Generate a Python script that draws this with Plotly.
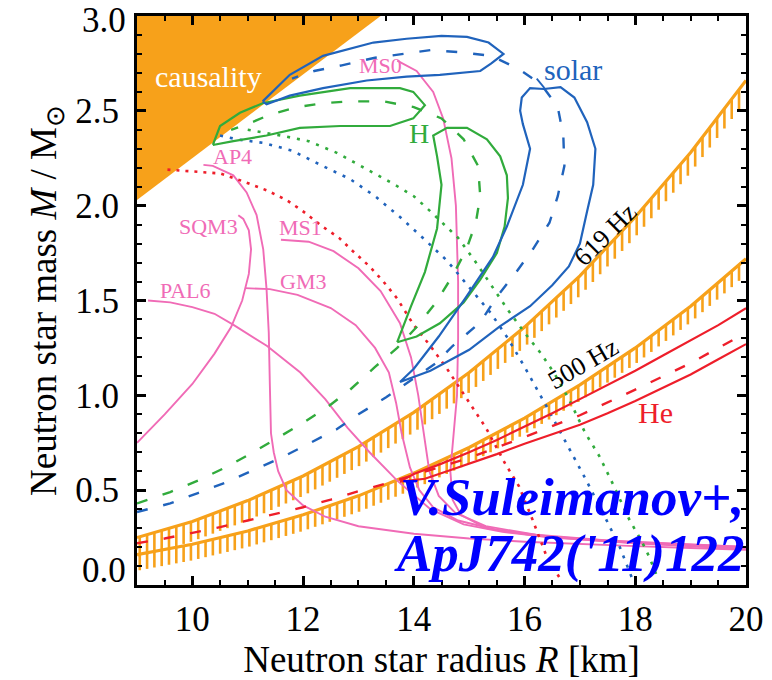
import numpy as np
import plotly.graph_objects as go

# ---------------- data ----------------
causality_R = [9.0, 13.4, 9.0]
causality_M = [2.03, 3.0, 3.0]

band_R = [9, 10, 11, 12, 13, 14, 15, 16, 17, 18, 19, 20]
hz619_M = [0.25, 0.335, 0.445, 0.575, 0.73, 0.91, 1.12, 1.36, 1.63, 1.94, 2.28, 2.66]
hz500_M = [0.16, 0.215, 0.285, 0.37, 0.47, 0.59, 0.725, 0.88, 1.055, 1.25, 1.47, 1.72]

he_up_R = [13.75, 14.0, 14.5, 15.0, 15.5, 16.0, 16.5, 17.0, 17.5, 18.0, 18.5, 19.0, 19.5, 20.0]
he_up_M = [0.545, 0.585, 0.64, 0.70, 0.765, 0.835, 0.905, 0.98, 1.055, 1.13, 1.21, 1.29, 1.37, 1.46]
he_lo_R = [13.75, 14.2, 14.6, 15.0, 15.5, 16.0, 16.5, 17.0, 17.5, 18.0, 18.5, 19.0, 19.5, 20.0]
he_lo_M = [0.545, 0.56, 0.60, 0.64, 0.69, 0.745, 0.795, 0.845, 0.905, 0.97, 1.04, 1.11, 1.19, 1.27]
he_fit_R = [9.0, 9.5, 10.0, 10.5, 11.0, 11.5, 12.0, 12.5, 13.0, 13.5, 14.0, 15.0, 16.0, 17.0, 18.0, 19.0, 20.0]
he_fit_M = [0.22, 0.245, 0.275, 0.305, 0.34, 0.375, 0.41, 0.45, 0.495, 0.535, 0.58, 0.67, 0.78, 0.895, 1.03, 1.17, 1.33]

solar_top_R = [11.27, 11.76, 12.36, 13.27, 13.87, 14.5, 14.96, 15.35, 15.62, 15.4, 15.2, 14.47, 13.87, 13.15, 12.36, 11.76, 11.34, 11.27]
solar_top_M = [2.55, 2.69, 2.79, 2.86, 2.88, 2.895, 2.89, 2.86, 2.80, 2.75, 2.71, 2.69, 2.68, 2.66, 2.62, 2.58, 2.535, 2.55]
solar_ban_R = [13.75, 14.3, 15.0, 15.56, 16.1, 16.5, 16.8, 17.0, 17.13, 17.24, 17.28, 17.13, 16.9, 16.65, 16.35, 16.1, 15.95, 15.92, 15.97, 16.1, 15.97, 15.68, 15.43, 14.95, 14.45, 14.0, 13.75]
solar_ban_M = [1.07, 1.13, 1.24, 1.365, 1.47, 1.58, 1.68, 1.80, 1.97, 2.11, 2.30, 2.44, 2.57, 2.625, 2.615, 2.62, 2.57, 2.50, 2.43, 2.30, 2.11, 1.89, 1.73, 1.52, 1.31, 1.14, 1.07]
solar_fit_R = [9.0, 9.6, 10.1, 10.6, 11.1, 11.6, 12.1, 12.6, 13.0, 13.5, 14.0, 14.4, 14.7, 15.2, 15.5, 15.85, 16.15, 16.45, 16.6, 16.72, 16.7, 16.6, 16.3, 15.9, 15.4, 14.8, 14.3, 13.75, 13.3, 12.7, 12.2, 11.8]
solar_fit_M = [0.385, 0.43, 0.485, 0.54, 0.605, 0.67, 0.745, 0.82, 0.90, 0.99, 1.09, 1.17, 1.26, 1.385, 1.52, 1.65, 1.77, 1.91, 2.05, 2.21, 2.37, 2.52, 2.64, 2.72, 2.79, 2.81, 2.82, 2.80, 2.78, 2.74, 2.71, 2.67]
solar_dot_R = [10.5, 10.8, 11.3, 11.8, 12.35, 12.85, 13.3, 13.75, 14.2, 14.6, 15.0, 15.4, 15.7, 16.0, 16.4, 16.75, 17.1, 17.45, 17.72, 17.95]
solar_dot_M = [2.37, 2.35, 2.33, 2.29, 2.21, 2.14, 2.05, 1.94, 1.82, 1.71, 1.57, 1.43, 1.30, 1.15, 0.94, 0.75, 0.56, 0.36, 0.20, 0.03]

h_top_R = [10.37, 10.5, 10.86, 11.27, 11.94, 12.85, 13.75, 13.99, 14.2, 13.99, 13.57, 12.67, 11.94, 11.34, 10.74, 10.37]
h_top_M = [2.32, 2.42, 2.49, 2.54, 2.58, 2.62, 2.62, 2.60, 2.53, 2.46, 2.42, 2.42, 2.41, 2.37, 2.34, 2.32]
h_ban_R = [13.7, 14.05, 14.47, 14.9, 15.2, 15.5, 15.64, 15.7, 15.68, 15.56, 15.32, 14.96, 14.6, 14.35, 14.42, 14.5, 14.42, 14.2, 13.95, 13.7]
h_ban_M = [1.28, 1.31, 1.38, 1.49, 1.61, 1.75, 1.89, 2.04, 2.16, 2.26, 2.35, 2.41, 2.41, 2.37, 2.26, 2.11, 1.88, 1.65, 1.47, 1.28]
h_fit_R = [9.0, 9.6, 10.1, 10.6, 11.1, 11.5, 12.0, 12.45, 12.85, 13.3, 13.7, 14.05, 14.4, 14.7, 14.95, 15.12, 15.2, 15.16, 14.9, 14.5, 14.0, 13.45, 12.85, 12.35, 11.9, 11.4, 11.0, 10.7]
h_fit_M = [0.43, 0.49, 0.55, 0.62, 0.70, 0.77, 0.855, 0.94, 1.03, 1.15, 1.25, 1.36, 1.49, 1.63, 1.77, 1.91, 2.05, 2.21, 2.35, 2.46, 2.52, 2.55, 2.55, 2.54, 2.52, 2.48, 2.43, 2.40]
h_dot_R = [11.0, 11.6, 12.1, 12.6, 13.1, 13.6, 14.0, 14.3, 14.8, 15.1, 15.4, 15.7, 16.0, 16.3, 16.55, 16.8, 17.1, 17.35, 17.6, 17.9, 18.1, 18.25, 18.4]
h_dot_M = [2.40, 2.37, 2.34, 2.28, 2.20, 2.12, 2.05, 1.97, 1.83, 1.71, 1.58, 1.45, 1.33, 1.22, 1.11, 0.98, 0.80, 0.68, 0.53, 0.34, 0.24, 0.15, 0.04]
he_dot_R = [9.55, 10.0, 10.5, 10.9, 11.35, 11.7, 12.0, 12.35, 12.65, 12.9, 13.2, 13.45, 13.7, 14.0, 14.3, 14.6, 14.85, 15.1, 15.3, 15.65, 15.9, 16.15, 16.4, 16.65]
he_dot_M = [2.19, 2.18, 2.17, 2.13, 2.08, 2.03, 1.97, 1.89, 1.83, 1.76, 1.68, 1.60, 1.51, 1.37, 1.26, 1.14, 1.03, 0.92, 0.83, 0.64, 0.52, 0.34, 0.15, 0.03]

eos = {
    "AP4": ([10.2, 10.37, 10.74, 10.98, 11.16, 11.28, 11.34, 11.38, 11.4, 11.42, 11.47, 11.55, 11.7, 12.0, 12.4, 13.0, 14.0, 15.0, 16.0, 17.0, 18.0, 19.0, 20.0],
            [2.215, 2.21, 2.16, 2.07, 1.95, 1.77, 1.56, 1.33, 1.05, 0.80, 0.70, 0.60, 0.50, 0.42, 0.36, 0.31, 0.27, 0.245, 0.228, 0.215, 0.205, 0.195, 0.185]),
    "SQM3": ([9.0, 9.5, 10.0, 10.4, 10.7, 10.9, 11.02, 11.06, 11.02, 10.92, 10.83],
             [0.75, 0.90, 1.06, 1.22, 1.36, 1.50, 1.64, 1.77, 1.87, 1.93, 1.95]),
    "GM3": ([10.95, 11.4, 11.9, 12.5, 12.95, 13.3, 13.55, 13.68, 13.78, 13.93, 14.1, 14.35, 14.8, 15.5, 16.5, 18.0, 20.0],
            [1.565, 1.56, 1.53, 1.46, 1.37, 1.25, 1.12, 0.96, 0.80, 0.62, 0.50, 0.41, 0.34, 0.29, 0.255, 0.225, 0.20]),
    "MS1": ([11.6, 12.1, 12.55, 13.0, 13.4, 13.75, 13.95, 14.08, 14.18, 14.28, 14.45, 14.75, 15.3, 16.2, 17.5, 20.0],
            [1.82, 1.81, 1.76, 1.67, 1.55, 1.38, 1.20, 1.00, 0.80, 0.60, 0.47, 0.38, 0.31, 0.265, 0.235, 0.20]),
    "MS0": ([13.7, 14.05, 14.35, 14.53, 14.68, 14.76, 14.8, 14.8, 14.78, 14.72, 14.66, 14.7, 14.85, 15.3, 16.2, 17.5, 20.0],
            [2.765, 2.71, 2.60, 2.46, 2.25, 2.00, 1.60, 1.30, 1.00, 0.80, 0.60, 0.45, 0.37, 0.30, 0.26, 0.23, 0.19]),
    "PAL6": ([9.2, 9.6, 10.0, 10.4, 10.75, 11.35, 11.95, 12.4, 12.8, 13.2, 13.7, 14.3, 14.9, 15.6, 16.5, 18.0, 20.0],
             [1.50, 1.49, 1.465, 1.43, 1.37, 1.26, 1.12, 0.98, 0.83, 0.70, 0.55, 0.40, 0.32, 0.28, 0.25, 0.22, 0.19]),
}
eos_labels = {"MS0": (13.4, 2.74), "AP4": (10.72, 2.26), "SQM3": (10.3, 1.89),
              "MS1": (11.95, 1.885), "GM3": (12.0, 1.6), "PAL6": (9.88, 1.555)}

y_ticks = [0.0, 0.5, 1.0, 1.5, 2.0, 2.5, 3.0]
y_ticktext = ["", "0.5", "1.0", "1.5", "2.0", "2.5", ""]

# ---------------- styles ----------------
ORANGE = "#F7A11A"
BLUE = "#2063BC"
GREEN = "#31AB3C"
RED = "#EE1E2A"
PINK = "#F06BB6"
FONT = "Liberation Serif, Times New Roman, serif"

fig = go.Figure()


def add_line(x, y, color, width=2.0, dash="solid"):
    fig.add_trace(go.Scatter(x=x, y=y, mode="lines", hoverinfo="skip", showlegend=False,
                             line=dict(color=color, width=width, dash=dash)))


# causality region
fig.add_trace(go.Scatter(x=causality_R, y=causality_M, mode="lines", fill="toself",
                         fillcolor=ORANGE, line=dict(width=0, color=ORANGE),
                         hoverinfo="skip", showlegend=False))

# hatched spin-frequency bands
for bm, hl in ((hz619_M, 0.105), (hz500_M, 0.085)):
    hx = np.arange(9.05, 20.0, 0.132)
    hy = np.interp(hx, band_R, bm)
    xs, ys = [], []
    for a, b in zip(hx, hy):
        xs += [a, a, None]
        ys += [b, b - hl, None]
    add_line(xs, ys, ORANGE, 2.6)
    add_line(band_R, bm, ORANGE, 3.2)

# EOS curves
for name, (r, m) in eos.items():
    add_line(r, m, PINK, 1.9)

# dotted
add_line(he_dot_R, he_dot_M, RED, 2.6, "3px,6px")
add_line(solar_dot_R, solar_dot_M, BLUE, 2.6, "3px,7px")
add_line(h_dot_R, h_dot_M, GREEN, 2.6, "3px,7px")

# He
add_line(he_up_R, he_up_M, RED, 2.2)
add_line(he_lo_R, he_lo_M, RED, 2.2)
add_line(he_fit_R, he_fit_M, RED, 2.4, "11px,16px")

# H
add_line(h_top_R, h_top_M, GREEN, 2.2)
add_line(h_ban_R, h_ban_M, GREEN, 2.2)
add_line(h_fit_R, h_fit_M, GREEN, 2.4, "11px,16px")

# solar
add_line(solar_top_R, solar_top_M, BLUE, 2.2)
add_line(solar_ban_R, solar_ban_M, BLUE, 2.2)
add_line(solar_fit_R, solar_fit_M, BLUE, 2.4, "11px,16px")
add_line([16.22, 16.36], [2.67, 2.62], BLUE, 1.8)

ann = []


def text(x, y, s, color, size, angle=0, **kw):
    d = dict(x=x, y=y, xref="x", yref="y", text=s, showarrow=False, textangle=angle,
             font=dict(family=FONT, size=size, color=color))
    d.update(kw)
    ann.append(d)


text(10.29, 2.68, "causality", "white", 30)
text(16.88, 2.72, "solar", BLUE, 30)
text(14.1, 2.38, "H", GREEN, 28)
text(18.37, 0.91, "He", RED, 30)
text(17.46, 1.85, "619 Hz", "black", 26, -45)
text(17.06, 1.17, "500 Hz", "black", 26, -30)
for name, (x, y) in eos_labels.items():
    text(x, y, name, PINK, 22)

# end tick labels of the mass axis, drawn inside the axis span as in the reference
for val, ypos in (("3.0", 2.975), ("0.0", 0.077)):
    ann.append(dict(x=0, xref="paper", y=ypos, yref="y", xanchor="right", yanchor="middle",
                    xshift=-9, text=val, showarrow=False,
                    font=dict(family=FONT, size=35, color="black")))

ann.append(dict(x=1.0, xref="paper", y=0.463, yref="y", xanchor="right", yanchor="middle",
                text="<b><i>V.Suleimanov+,</i></b>", showarrow=False,
                font=dict(family=FONT, size=53, color="#0000FF")))
ann.append(dict(x=1.0, xref="paper", y=0.167, yref="y", xanchor="right", yanchor="middle",
                text="<b><i>ApJ742('11)122</i></b>", showarrow=False,
                font=dict(family=FONT, size=53, color="#0000FF")))

axis_common = dict(showline=True, linewidth=3, linecolor="black", mirror="ticks",
                   ticks="inside", ticklen=9, tickwidth=3, tickcolor="black",
                   showgrid=False, zeroline=False, automargin=False,
                   tickfont=dict(family=FONT, size=35, color="black"))

fig.update_layout(
    width=772, height=680,
    margin=dict(l=137, r=26, t=16, b=95),
    paper_bgcolor="white", plot_bgcolor="white",
    showlegend=False,
    annotations=ann,
    xaxis=dict(range=[9, 20], tick0=0, dtick=2,
               minor=dict(dtick=0.5, ticks="inside", ticklen=5, tickwidth=2, tickcolor="black"),
               ticklabelstandoff=1,
               title=dict(text="Neutron star radius <i>R</i> [km]", standoff=4,
                          font=dict(family=FONT, size=37, color="black")),
               **axis_common),
    yaxis=dict(range=[0, 3.0], tickmode="array", tickvals=y_ticks, ticktext=y_ticktext,
               minor=dict(dtick=0.1, ticks="inside", ticklen=5, tickwidth=2, tickcolor="black"),
               ticklabelstandoff=8,
               title=dict(text="Neutron star mass <i>M</i> / M<sub>⊙</sub>", standoff=8,
                          font=dict(family=FONT, size=37, color="black")),
               **axis_common),
)

fig.write_html("out.html")
